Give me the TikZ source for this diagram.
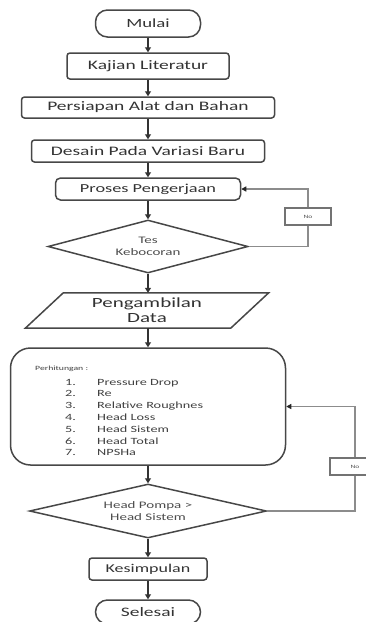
\documentclass[tikz,border=0pt]{standalone}
\usepackage{fontspec}
\setmainfont[FakeStretch=1.5]{Carlito}
\usetikzlibrary{shapes.geometric,arrows.meta,calc}
\newcommand\fsz[2]{\fontsize{#1}{#2}\selectfont}
\begin{document}
\begin{tikzpicture}[x=1pt,y=-1pt,
 box/.style={draw=black!72,line width=1.5pt,rounded corners=3pt,text=black!80,inner sep=0pt,font=\fsz{13}{15}},
 term/.style={box,rounded corners=12pt},
 dec/.style={diamond,draw=black!72,line width=1.5pt,text=black!70,inner sep=0pt,align=center,font=\fsz{10}{12.5}},
 flow/.style={draw=black!80,line width=1.8pt,-{Triangle[length=5pt,width=6pt]}},
 back/.style={draw=black!45,line width=1.2pt},
 backarrow/.style={back,-{Triangle[length=5pt,width=5pt,color=black!85]}},
 nolbl/.style={draw=black!55,line width=1.2pt,fill=white,minimum height=17pt,font=\fsz{5}{6},text=black!70,inner sep=0pt},
]
\useasboundingbox (0,0) rectangle (365,622);

\node[term,minimum width=105pt,minimum height=27pt,font=\fsz{12.5}{15}] (mulai) at (148,23.5) {Mulai};
\node[box,minimum width=162pt,minimum height=26pt] (kajian) at (148,66) {Kajian Literatur};
\node[box,minimum width=253pt,minimum height=21pt] (persiapan) at (148,107.5) {Persiapan Alat dan Bahan};
\node[box,minimum width=233pt,minimum height=22pt] (desain) at (148,151) {Desain Pada Variasi Baru};
\node[box,rounded corners=5pt,minimum width=185pt,minimum height=22pt,font=\fsz{12.2}{14}] (proses) at (148,189) {Proses Pengerjaan};
\node[dec,aspect=3.77,minimum width=200pt,minimum height=53pt] (tes) at (148,246.5) {Tes\\Kebocoran};

\node[inner sep=0pt,minimum width=243pt,minimum height=35pt,align=center,font=\fsz{14}{15},text=black!80] (pd) at (147,310.5) {Pengambilan\\Data};
\draw[draw=black!72,line width=1.5pt] ($(pd.north west)+(38,0)$) -- (pd.north east) -- ($(pd.south east)-(38,0)$) -- (pd.south west) -- cycle;

\node[box,rounded corners=20pt,minimum width=275pt,minimum height=117pt] (hitung) at (148,406.5) {};
\node[anchor=base west,inner sep=0pt,font=\fsz{6.5}{8},text=black!75] (htitle) at (35,370) {Perhitungan :};
\node[anchor=base west,inner sep=0pt,font=\fsz{9.5}{11.8},text=black!75] (hlist) at (65,385) {\begin{tabular}[t]{@{}p{32pt}@{}l@{}}
1. & Pressure Drop\\
2. & Re\\
3. & Relative Roughnes\\
4. & Head Loss\\
5. & Head Sistem\\
6. & Head Total\\
7. & NPSHa
\end{tabular}};

\node[dec,aspect=4.39,minimum width=237pt,minimum height=54pt] (head) at (148,511) {Head Pompa >\\Head Sistem};
\node[box,minimum width=118pt,minimum height=22pt,font=\fsz{12}{14}] (kesimpulan) at (148,569) {Kesimpulan};
\node[term,minimum width=105pt,minimum height=24pt] (selesai) at (148,612) {Selesai};

\draw[flow] (mulai.south) -- (kajian.north);
\draw[flow] (kajian.south) -- (persiapan.north);
\draw[flow] (persiapan.south) -- (desain.north);
\draw[flow] (desain.south) -- (proses.north);
\draw[flow] (proses.south) -- (tes.north);
\draw[flow] (tes.south) -- (tes.south |- pd.north);
\draw[flow] (tes.south |- pd.south) -- (hitung.north);
\draw[flow] (hitung.south) -- (head.north);
\draw[flow] (head.south) -- (kesimpulan.north);
\draw[flow] (kesimpulan.south) -- (selesai.north);

\node[nolbl,minimum width=46pt] (no1) at (308,216.5) {No};
\draw[back] (tes.east) -| (no1.south);
\draw[backarrow] (no1.north) |- (proses.east);

\node[nolbl,minimum width=50pt] (no2) at (355,466.5) {No};
\draw[back] (head.east) -| (no2.south);
\draw[backarrow] (no2.north) |- (hitung.east);
\end{tikzpicture}
\end{document}
